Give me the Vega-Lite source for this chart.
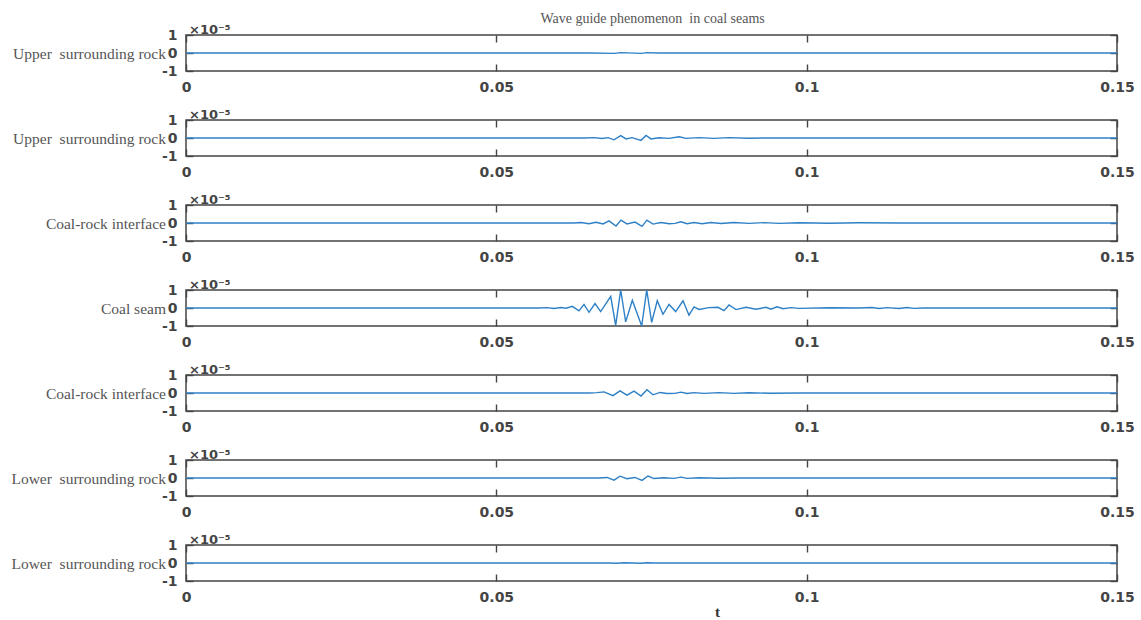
{
  "$schema": "https://vega.github.io/schema/vega-lite/v6.json",
  "background": "white",
  "padding": {"left": 10, "top": 12, "right": 3, "bottom": 2},
  "title": {"text": "Wave guide phenomenon\u00a0 in coal seams", "font": "Liberation Serif", "fontSize": 14, "fontWeight": "normal", "color": "#555", "anchor": "middle", "frame": "bounds", "dx": 80, "offset": -3},
  "datasets": {
    "w": [
      {"p":1,"t":0,"v":0},{"p":1,"t":0.065,"v":0},{"p":1,"t":0.069,"v":-0.02},{"p":1,"t":0.07,"v":0.02},{"p":1,"t":0.0734,"v":-0.02},{"p":1,"t":0.0742,"v":0.02},{"p":1,"t":0.076,"v":0},{"p":1,"t":0.15,"v":0},

      {"p":2,"t":0,"v":0},{"p":2,"t":0.06412,"v":0},{"p":2,"t":0.06574,"v":0.02},{"p":2,"t":0.06702,"v":-0.03},{"p":2,"t":0.06799,"v":0.02},{"p":2,"t":0.06896,"v":-0.1},{"p":2,"t":0.07004,"v":0.13},{"p":2,"t":0.07089,"v":-0.05},{"p":2,"t":0.07186,"v":0.02},{"p":2,"t":0.07331,"v":-0.13},{"p":2,"t":0.07411,"v":0.14},{"p":2,"t":0.07492,"v":-0.05},{"p":2,"t":0.07621,"v":0.01},{"p":2,"t":0.07782,"v":-0.02},{"p":2,"t":0.07943,"v":0.07},{"p":2,"t":0.08056,"v":-0.02},{"p":2,"t":0.08265,"v":0.02},{"p":2,"t":0.08507,"v":-0.02},{"p":2,"t":0.08749,"v":0.02},{"p":2,"t":0.09071,"v":-0.01},{"p":2,"t":0.09393,"v":0},{"p":2,"t":0.15,"v":0},

      {"p":3,"t":0,"v":0},{"p":3,"t":0.06251,"v":0},{"p":3,"t":0.06364,"v":0.03},{"p":3,"t":0.06493,"v":-0.04},{"p":3,"t":0.06606,"v":0.04},{"p":3,"t":0.06719,"v":-0.05},{"p":3,"t":0.06815,"v":0.12},{"p":3,"t":0.06928,"v":-0.17},{"p":3,"t":0.07009,"v":0.16},{"p":3,"t":0.07105,"v":-0.05},{"p":3,"t":0.07234,"v":0.05},{"p":3,"t":0.07347,"v":-0.19},{"p":3,"t":0.07427,"v":0.16},{"p":3,"t":0.07524,"v":-0.06},{"p":3,"t":0.07653,"v":0.03},{"p":3,"t":0.07782,"v":-0.04},{"p":3,"t":0.07879,"v":-0.02},{"p":3,"t":0.07975,"v":0.07},{"p":3,"t":0.08072,"v":-0.04},{"p":3,"t":0.08185,"v":0.03},{"p":3,"t":0.08314,"v":-0.04},{"p":3,"t":0.08459,"v":0.03},{"p":3,"t":0.0862,"v":-0.03},{"p":3,"t":0.08829,"v":0.03},{"p":3,"t":0.09071,"v":-0.02},{"p":3,"t":0.09313,"v":0.02},{"p":3,"t":0.09554,"v":-0.02},{"p":3,"t":0.09877,"v":0.01},{"p":3,"t":0.1036,"v":-0.01},{"p":3,"t":0.10843,"v":0.01},{"p":3,"t":0.11488,"v":0},{"p":3,"t":0.15,"v":0},

      {"p":4,"t":0,"v":0},{"p":4,"t":0.05687,"v":0},{"p":4,"t":0.05816,"v":0.02},{"p":4,"t":0.05929,"v":-0.03},{"p":4,"t":0.06042,"v":0.03},{"p":4,"t":0.06122,"v":-0.01},{"p":4,"t":0.06224,"v":0.09},{"p":4,"t":0.06332,"v":-0.16},{"p":4,"t":0.06412,"v":0.2},{"p":4,"t":0.06493,"v":-0.24},{"p":4,"t":0.0659,"v":0.25},{"p":4,"t":0.06681,"v":-0.2},{"p":4,"t":0.06843,"v":0.65},{"p":4,"t":0.06923,"v":-0.97},{"p":4,"t":0.07004,"v":1.0},{"p":4,"t":0.07084,"v":-0.77},{"p":4,"t":0.07191,"v":0.43},{"p":4,"t":0.07342,"v":-1.0},{"p":4,"t":0.07423,"v":1.0},{"p":4,"t":0.07503,"v":-0.8},{"p":4,"t":0.07593,"v":0.4},{"p":4,"t":0.07685,"v":-0.35},{"p":4,"t":0.07782,"v":0.2},{"p":4,"t":0.0789,"v":-0.2},{"p":4,"t":0.08008,"v":0.4},{"p":4,"t":0.08104,"v":-0.4},{"p":4,"t":0.08185,"v":0.06},{"p":4,"t":0.08265,"v":-0.08},{"p":4,"t":0.08426,"v":0.02},{"p":4,"t":0.08571,"v":0.04},{"p":4,"t":0.08668,"v":-0.15},{"p":4,"t":0.08749,"v":0.17},{"p":4,"t":0.08861,"v":-0.09},{"p":4,"t":0.09023,"v":0.04},{"p":4,"t":0.09184,"v":-0.07},{"p":4,"t":0.09345,"v":0.04},{"p":4,"t":0.09425,"v":-0.07},{"p":4,"t":0.09522,"v":0.07},{"p":4,"t":0.09619,"v":-0.04},{"p":4,"t":0.09748,"v":0.02},{"p":4,"t":0.09877,"v":-0.02},{"p":4,"t":0.1036,"v":0.01},{"p":4,"t":0.10843,"v":0},{"p":4,"t":0.11053,"v":0.03},{"p":4,"t":0.11165,"v":-0.03},{"p":4,"t":0.11294,"v":0.02},{"p":4,"t":0.11488,"v":-0.03},{"p":4,"t":0.11617,"v":0.03},{"p":4,"t":0.11729,"v":-0.02},{"p":4,"t":0.1189,"v":0},{"p":4,"t":0.15,"v":0},

      {"p":5,"t":0,"v":0},{"p":5,"t":0.06493,"v":0},{"p":5,"t":0.06622,"v":0.02},{"p":5,"t":0.06735,"v":0.06},{"p":5,"t":0.0688,"v":-0.15},{"p":5,"t":0.06993,"v":0.12},{"p":5,"t":0.07105,"v":-0.12},{"p":5,"t":0.07218,"v":0.1},{"p":5,"t":0.07331,"v":-0.17},{"p":5,"t":0.07427,"v":0.18},{"p":5,"t":0.07524,"v":-0.1},{"p":5,"t":0.07637,"v":0.03},{"p":5,"t":0.0775,"v":-0.03},{"p":5,"t":0.07879,"v":-0.02},{"p":5,"t":0.07975,"v":0.05},{"p":5,"t":0.08072,"v":-0.03},{"p":5,"t":0.08185,"v":0.02},{"p":5,"t":0.08346,"v":-0.02},{"p":5,"t":0.08588,"v":0.02},{"p":5,"t":0.08829,"v":-0.02},{"p":5,"t":0.09071,"v":0.01},{"p":5,"t":0.09393,"v":-0.01},{"p":5,"t":0.09877,"v":0},{"p":5,"t":0.15,"v":0},

      {"p":6,"t":0,"v":0},{"p":6,"t":0.06654,"v":0},{"p":6,"t":0.06783,"v":0.03},{"p":6,"t":0.06896,"v":-0.12},{"p":6,"t":0.06993,"v":0.1},{"p":6,"t":0.07105,"v":-0.04},{"p":6,"t":0.07234,"v":0.03},{"p":6,"t":0.07347,"v":-0.13},{"p":6,"t":0.07444,"v":0.11},{"p":6,"t":0.0754,"v":-0.03},{"p":6,"t":0.07701,"v":0.01},{"p":6,"t":0.07863,"v":-0.02},{"p":6,"t":0.07975,"v":0.05},{"p":6,"t":0.08072,"v":-0.02},{"p":6,"t":0.08265,"v":0.01},{"p":6,"t":0.08588,"v":-0.01},{"p":6,"t":0.0891,"v":0},{"p":6,"t":0.15,"v":0},

      {"p":7,"t":0,"v":0},{"p":7,"t":0.068,"v":0},{"p":7,"t":0.0695,"v":-0.015},{"p":7,"t":0.0705,"v":0.015},{"p":7,"t":0.0734,"v":-0.015},{"p":7,"t":0.0742,"v":0.015},{"p":7,"t":0.0755,"v":0},{"p":7,"t":0.15,"v":0}
    ]
  },
  "spacing": 13,
  "vconcat": [
    {"width": 931, "height": 36, "title": {"text": "×10⁻⁵"}, "data": {"name": "w"}, "transform": [{"filter": "datum.p == 1"}],
     "layer": [
       {"mark": {"type": "line", "color": "#2E80C6", "strokeWidth": 1.4, "clip": true},
        "encoding": {"x": {"field": "t", "type": "quantitative", "scale": {"domain": [0, 0.15], "nice": false, "zero": false}, "axis": {"values": [0, 0.05, 0.1, 0.15], "format": ".2~f", "title": null}},
                     "y": {"field": "v", "type": "quantitative", "scale": {"domain": [-1, 1], "nice": false}, "axis": {"values": [-1, 0, 1], "format": "~g", "labelExpr": "replace(datum.label, '−', '-')", "title": "Upper\u00a0 surrounding rock"}}}},
       {"mark": {"type": "line", "opacity": 0},
        "encoding": {"x": {"field": "t", "type": "quantitative", "axis": {"orient": "top", "values": [0, 0.05, 0.1, 0.15], "labels": false, "title": null}},
                     "y": {"field": "v", "type": "quantitative", "axis": {"orient": "right", "values": [-1, 0, 1], "labels": false, "title": null}}}}
     ],
     "resolve": {"axis": {"x": "independent", "y": "independent"}}},
    {"width": 931, "height": 36, "title": {"text": "×10⁻⁵"}, "data": {"name": "w"}, "transform": [{"filter": "datum.p == 2"}],
     "layer": [
       {"mark": {"type": "line", "color": "#2E80C6", "strokeWidth": 1.4, "clip": true},
        "encoding": {"x": {"field": "t", "type": "quantitative", "scale": {"domain": [0, 0.15], "nice": false, "zero": false}, "axis": {"values": [0, 0.05, 0.1, 0.15], "format": ".2~f", "title": null}},
                     "y": {"field": "v", "type": "quantitative", "scale": {"domain": [-1, 1], "nice": false}, "axis": {"values": [-1, 0, 1], "format": "~g", "labelExpr": "replace(datum.label, '−', '-')", "title": "Upper\u00a0 surrounding rock"}}}},
       {"mark": {"type": "line", "opacity": 0},
        "encoding": {"x": {"field": "t", "type": "quantitative", "axis": {"orient": "top", "values": [0, 0.05, 0.1, 0.15], "labels": false, "title": null}},
                     "y": {"field": "v", "type": "quantitative", "axis": {"orient": "right", "values": [-1, 0, 1], "labels": false, "title": null}}}}
     ],
     "resolve": {"axis": {"x": "independent", "y": "independent"}}},
    {"width": 931, "height": 36, "title": {"text": "×10⁻⁵"}, "data": {"name": "w"}, "transform": [{"filter": "datum.p == 3"}],
     "layer": [
       {"mark": {"type": "line", "color": "#2E80C6", "strokeWidth": 1.4, "clip": true},
        "encoding": {"x": {"field": "t", "type": "quantitative", "scale": {"domain": [0, 0.15], "nice": false, "zero": false}, "axis": {"values": [0, 0.05, 0.1, 0.15], "format": ".2~f", "title": null}},
                     "y": {"field": "v", "type": "quantitative", "scale": {"domain": [-1, 1], "nice": false}, "axis": {"values": [-1, 0, 1], "format": "~g", "labelExpr": "replace(datum.label, '−', '-')", "title": "Coal-rock interface"}}}},
       {"mark": {"type": "line", "opacity": 0},
        "encoding": {"x": {"field": "t", "type": "quantitative", "axis": {"orient": "top", "values": [0, 0.05, 0.1, 0.15], "labels": false, "title": null}},
                     "y": {"field": "v", "type": "quantitative", "axis": {"orient": "right", "values": [-1, 0, 1], "labels": false, "title": null}}}}
     ],
     "resolve": {"axis": {"x": "independent", "y": "independent"}}},
    {"width": 931, "height": 36, "title": {"text": "×10⁻⁵"}, "data": {"name": "w"}, "transform": [{"filter": "datum.p == 4"}],
     "layer": [
       {"mark": {"type": "line", "color": "#2E80C6", "strokeWidth": 1.4, "clip": true},
        "encoding": {"x": {"field": "t", "type": "quantitative", "scale": {"domain": [0, 0.15], "nice": false, "zero": false}, "axis": {"values": [0, 0.05, 0.1, 0.15], "format": ".2~f", "title": null}},
                     "y": {"field": "v", "type": "quantitative", "scale": {"domain": [-1, 1], "nice": false}, "axis": {"values": [-1, 0, 1], "format": "~g", "labelExpr": "replace(datum.label, '−', '-')", "title": "Coal seam"}}}},
       {"mark": {"type": "line", "opacity": 0},
        "encoding": {"x": {"field": "t", "type": "quantitative", "axis": {"orient": "top", "values": [0, 0.05, 0.1, 0.15], "labels": false, "title": null}},
                     "y": {"field": "v", "type": "quantitative", "axis": {"orient": "right", "values": [-1, 0, 1], "labels": false, "title": null}}}}
     ],
     "resolve": {"axis": {"x": "independent", "y": "independent"}}},
    {"width": 931, "height": 36, "title": {"text": "×10⁻⁵"}, "data": {"name": "w"}, "transform": [{"filter": "datum.p == 5"}],
     "layer": [
       {"mark": {"type": "line", "color": "#2E80C6", "strokeWidth": 1.4, "clip": true},
        "encoding": {"x": {"field": "t", "type": "quantitative", "scale": {"domain": [0, 0.15], "nice": false, "zero": false}, "axis": {"values": [0, 0.05, 0.1, 0.15], "format": ".2~f", "title": null}},
                     "y": {"field": "v", "type": "quantitative", "scale": {"domain": [-1, 1], "nice": false}, "axis": {"values": [-1, 0, 1], "format": "~g", "labelExpr": "replace(datum.label, '−', '-')", "title": "Coal-rock interface"}}}},
       {"mark": {"type": "line", "opacity": 0},
        "encoding": {"x": {"field": "t", "type": "quantitative", "axis": {"orient": "top", "values": [0, 0.05, 0.1, 0.15], "labels": false, "title": null}},
                     "y": {"field": "v", "type": "quantitative", "axis": {"orient": "right", "values": [-1, 0, 1], "labels": false, "title": null}}}}
     ],
     "resolve": {"axis": {"x": "independent", "y": "independent"}}},
    {"width": 931, "height": 36, "title": {"text": "×10⁻⁵"}, "data": {"name": "w"}, "transform": [{"filter": "datum.p == 6"}],
     "layer": [
       {"mark": {"type": "line", "color": "#2E80C6", "strokeWidth": 1.4, "clip": true},
        "encoding": {"x": {"field": "t", "type": "quantitative", "scale": {"domain": [0, 0.15], "nice": false, "zero": false}, "axis": {"values": [0, 0.05, 0.1, 0.15], "format": ".2~f", "title": null}},
                     "y": {"field": "v", "type": "quantitative", "scale": {"domain": [-1, 1], "nice": false}, "axis": {"values": [-1, 0, 1], "format": "~g", "labelExpr": "replace(datum.label, '−', '-')", "title": "Lower\u00a0 surrounding rock"}}}},
       {"mark": {"type": "line", "opacity": 0},
        "encoding": {"x": {"field": "t", "type": "quantitative", "axis": {"orient": "top", "values": [0, 0.05, 0.1, 0.15], "labels": false, "title": null}},
                     "y": {"field": "v", "type": "quantitative", "axis": {"orient": "right", "values": [-1, 0, 1], "labels": false, "title": null}}}}
     ],
     "resolve": {"axis": {"x": "independent", "y": "independent"}}},
    {"width": 931, "height": 36, "title": {"text": "×10⁻⁵"}, "data": {"name": "w"}, "transform": [{"filter": "datum.p == 7"}],
     "layer": [
       {"mark": {"type": "line", "color": "#2E80C6", "strokeWidth": 1.4, "clip": true},
        "encoding": {"x": {"field": "t", "type": "quantitative", "scale": {"domain": [0, 0.15], "nice": false, "zero": false}, "axis": {"values": [0, 0.05, 0.1, 0.15], "format": ".2~f", "title": "t", "titleFont": "Liberation Serif", "titleFontWeight": "bold", "titleColor": "#333", "titleFontSize": 15, "titleX": 531, "titlePadding": 0}},
                     "y": {"field": "v", "type": "quantitative", "scale": {"domain": [-1, 1], "nice": false}, "axis": {"values": [-1, 0, 1], "format": "~g", "labelExpr": "replace(datum.label, '−', '-')", "title": "Lower\u00a0 surrounding rock"}}}},
       {"mark": {"type": "line", "opacity": 0},
        "encoding": {"x": {"field": "t", "type": "quantitative", "axis": {"orient": "top", "values": [0, 0.05, 0.1, 0.15], "labels": false, "title": null}},
                     "y": {"field": "v", "type": "quantitative", "axis": {"orient": "right", "values": [-1, 0, 1], "labels": false, "title": null}}}}
     ],
     "resolve": {"axis": {"x": "independent", "y": "independent"}}}
  ],
  "config": {
    "view": {"stroke": "#444", "strokeWidth": 1.5},
    "axis": {"domain": false, "grid": false, "ticks": true, "tickColor": "#444", "tickWidth": 1.4, "tickSize": -7, "labelPadding": 16, "labelFont": "DejaVu Sans", "labelFontSize": 14, "labelFontWeight": "bold", "labelColor": "#444", "titleFont": "Liberation Serif", "titleFontSize": 15.5, "titleFontWeight": "normal", "titleColor": "#555"},
    "axisY": {"titleAngle": 0, "titleAlign": "right", "titleBaseline": "middle", "titlePadding": -4},
    "axisX": {"labelFlush": false},
    "title": {"font": "DejaVu Sans", "fontSize": 13, "fontWeight": "bold", "color": "#444", "anchor": "start", "frame": "group", "offset": -9, "dx": 3}
  }
}
